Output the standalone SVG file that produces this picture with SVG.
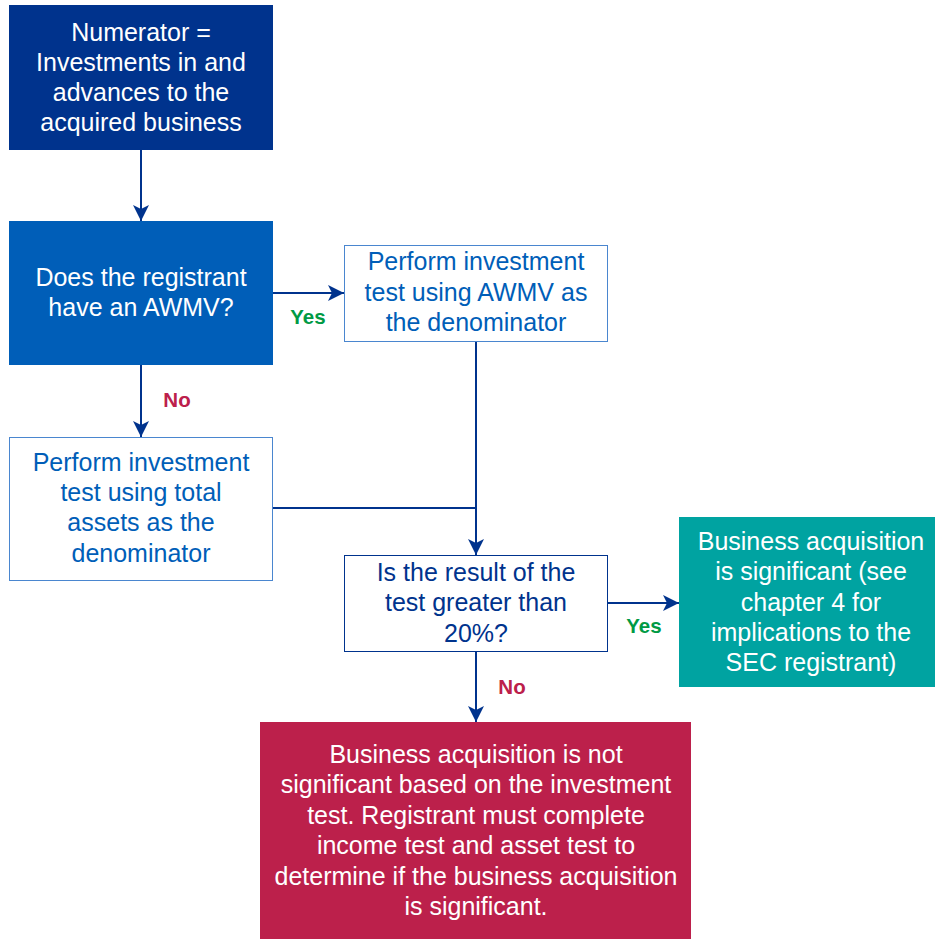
<svg xmlns="http://www.w3.org/2000/svg" width="935" height="939" viewBox="0 0 935 939">
  <style>
    text { font-family: "Liberation Sans", Arial, sans-serif; font-size: 25px; text-anchor: middle; }
    .w { fill: #ffffff; }
    .b { fill: #005EB8; }
    .d { fill: #00338D; }
    .lbl { font-weight: bold; font-size: 20.5px; }
    .yes { fill: #009A44; }
    .no { fill: #BC204B; }
    .conn { stroke: #00338D; stroke-width: 2; fill: none; }
  </style>
  <defs>
    <marker id="arr" viewBox="0 0 16 16" refX="16" refY="8" markerWidth="16" markerHeight="16" markerUnits="userSpaceOnUse" orient="auto">
      <path d="M0,0 L16,8 L0,16 L4,8 z" fill="#00338D"/>
    </marker>
  </defs>

  <g id="connectors">
    <line class="conn" x1="141" y1="150" x2="141" y2="221" marker-end="url(#arr)"/>
    <line class="conn" x1="273" y1="293" x2="344" y2="293" marker-end="url(#arr)"/>
    <line class="conn" x1="141" y1="365" x2="141" y2="437" marker-end="url(#arr)"/>
    <line class="conn" x1="476" y1="341" x2="476" y2="555" marker-end="url(#arr)"/>
    <line class="conn" x1="273" y1="508" x2="476" y2="508"/>
    <line class="conn" x1="607" y1="603" x2="679" y2="603" marker-end="url(#arr)"/>
    <line class="conn" x1="476" y1="651" x2="476" y2="722" marker-end="url(#arr)"/>
    <text class="lbl yes" x="308" y="324">Yes</text>
    <text class="lbl no" x="177" y="407">No</text>
    <text class="lbl yes" x="644" y="633">Yes</text>
    <text class="lbl no" x="512" y="694">No</text>
  </g>

  <g id="numerator">
    <rect x="9" y="5" width="264" height="145" fill="#00338D"/>
    <text class="w" x="141" y="41">Numerator =</text>
    <text class="w" x="141" y="71">Investments in and</text>
    <text class="w" x="141" y="101">advances to the</text>
    <text class="w" x="141" y="131">acquired business</text>
  </g>

  <g id="awmv-question">
    <rect x="9" y="221" width="264" height="144" fill="#005EB8"/>
    <text class="w" x="141" y="286">Does the registrant</text>
    <text class="w" x="141" y="316">have an AWMV?</text>
  </g>

  <g id="awmv-test">
    <rect x="344.5" y="245.5" width="263" height="96" fill="#ffffff" stroke="#4A86CF" stroke-width="1"/>
    <text class="b" x="476" y="270">Perform investment</text>
    <text class="b" x="476" y="301">test using AWMV as</text>
    <text class="b" x="476" y="331">the denominator</text>
  </g>

  <g id="assets-test">
    <rect x="9.5" y="437.5" width="263" height="143" fill="#ffffff" stroke="#4A86CF" stroke-width="1"/>
    <text class="b" x="141" y="471">Perform investment</text>
    <text class="b" x="141" y="501">test using total</text>
    <text class="b" x="141" y="531">assets as the</text>
    <text class="b" x="141" y="562">denominator</text>
  </g>

  <g id="threshold-question">
    <rect x="344.5" y="555.5" width="263" height="96" fill="#ffffff" stroke="#00338D" stroke-width="1"/>
    <text class="d" x="476" y="581">Is the result of the</text>
    <text class="d" x="476" y="611">test greater than</text>
    <text class="d" x="476" y="642">20%?</text>
  </g>

  <g id="significant">
    <rect x="679" y="517" width="256" height="170" fill="#00A3A1"/>
    <text class="w" x="811" y="550">Business acquisition</text>
    <text class="w" x="811" y="580">is significant (see</text>
    <text class="w" x="811" y="611">chapter 4 for</text>
    <text class="w" x="811" y="641">implications to the</text>
    <text class="w" x="811" y="671">SEC registrant)</text>
  </g>

  <g id="not-significant">
    <rect x="260" y="722" width="431" height="217" fill="#BC204B"/>
    <text class="w" x="476" y="763">Business acquisition is not</text>
    <text class="w" x="476" y="793">significant based on the investment</text>
    <text class="w" x="476" y="824">test. Registrant must complete</text>
    <text class="w" x="476" y="854">income test and asset test to</text>
    <text class="w" x="476" y="885">determine if the business acquisition</text>
    <text class="w" x="476" y="915">is significant.</text>
  </g>
</svg>
